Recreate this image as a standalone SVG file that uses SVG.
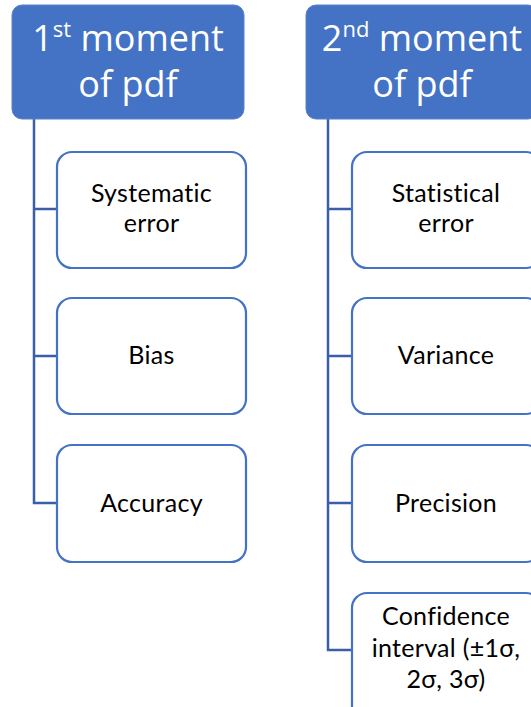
<svg xmlns="http://www.w3.org/2000/svg" width="531" height="707" viewBox="0 0 531 707">
  <style>
    .head rect { fill: #4472C4; stroke: #5b82cc; stroke-width: 1; }
    .head text { fill: #ffffff; font-family: "Open Sans", "Liberation Sans", sans-serif; font-size: 36px; text-anchor: middle; }
    .sup { font-size: 22px; }
    .item rect { fill: #ffffff; stroke: #4472C4; stroke-width: 2.2; }
    .item text { fill: #000000; font-family: Lato, "Open Sans", sans-serif; font-size: 25px; text-anchor: middle; letter-spacing: 0.3px; }
    .conn path { fill: none; stroke: #3a5ea8; stroke-width: 2.5; }
  </style>

  <!-- connectors -->
  <g id="connectors" class="conn">
    <path d="M34 119 V503 H57 M34 209 H57 M34 356 H57"/>
    <path d="M328 119 V650 H352 M328 209 H352 M328 356 H352 M328 503 H352"/>
  </g>

  <!-- first moment branch -->
  <g id="head1" class="head">
    <rect x="12" y="5" width="232" height="114" rx="10"/>
    <text x="128" y="51">1<tspan class="sup" dy="-14">st</tspan><tspan dy="14"> moment</tspan></text>
    <text x="128" y="97">of pdf</text>
  </g>
  <g id="systematic" class="item">
    <rect x="57" y="152" width="189" height="116" rx="15"/>
    <text x="151.5" y="202">Systematic</text>
    <text x="151.5" y="232">error</text>
  </g>
  <g id="bias" class="item">
    <rect x="57" y="298" width="189" height="116" rx="15"/>
    <text x="151.5" y="364">Bias</text>
  </g>
  <g id="accuracy" class="item">
    <rect x="57" y="445" width="189" height="117" rx="15"/>
    <text x="151.5" y="512">Accuracy</text>
  </g>

  <!-- second moment branch -->
  <g id="head2" class="head">
    <rect x="306" y="5" width="232" height="114" rx="10"/>
    <text x="422" y="51">2<tspan class="sup" dy="-14">nd</tspan><tspan dy="14"> moment</tspan></text>
    <text x="422" y="97">of pdf</text>
  </g>
  <g id="statistical" class="item">
    <rect x="352" y="152" width="189" height="116" rx="15"/>
    <text x="446" y="202">Statistical</text>
    <text x="446" y="232">error</text>
  </g>
  <g id="variance" class="item">
    <rect x="352" y="298" width="189" height="116" rx="15"/>
    <text x="446" y="364">Variance</text>
  </g>
  <g id="precision" class="item">
    <rect x="352" y="445" width="189" height="117" rx="15"/>
    <text x="446" y="512">Precision</text>
  </g>
  <g id="confidence" class="item">
    <rect x="352" y="593" width="189" height="130" rx="15"/>
    <text x="446" y="625">Confidence</text>
    <text x="446" y="657">interval (±1σ,</text>
    <text x="446" y="688">2σ, 3σ)</text>
  </g>
</svg>
